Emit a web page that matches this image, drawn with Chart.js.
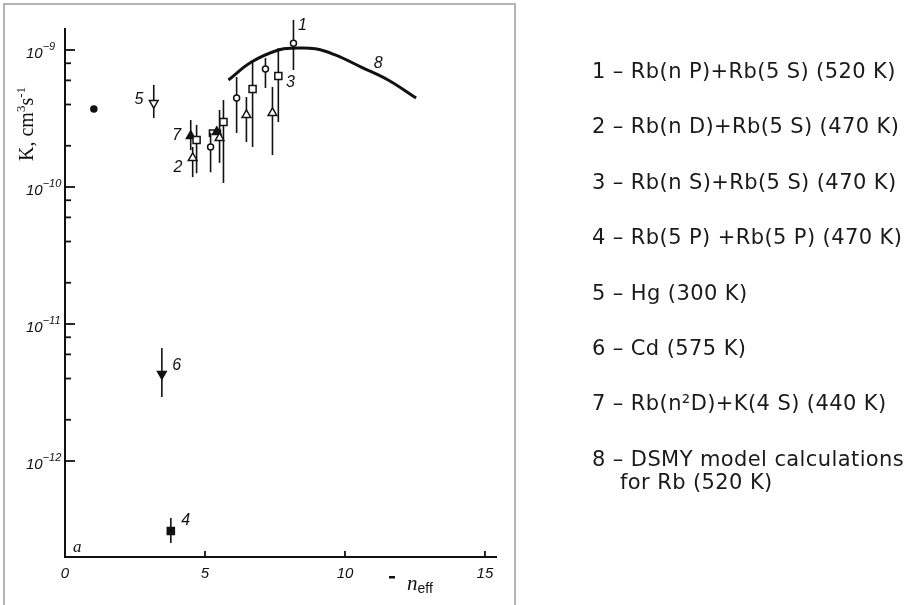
<!DOCTYPE html>
<html>
<head>
<meta charset="utf-8">
<title>K(n_eff)</title>
<script src="https://cdn.jsdelivr.net/npm/chart.js"></script>
<style>
  body { margin: 0; background: #fff; }
  #wrap { position: relative; width: 921px; height: 605px; overflow: hidden; }
  #frame { position: absolute; left: 3px; top: 3px; width: 513px; height: 620px; border: 2px solid #b4b4b4; box-sizing: border-box; }
  #myChart { position: absolute; left: 0; top: 0; }
  #legend { position: absolute; left: 592px; top: 0; font-family: "DejaVu Sans", sans-serif; font-size: 21px; letter-spacing: 0.4px; color: #1a1a1a; }
  #legend div { position: absolute; white-space: nowrap; line-height: 23px; }
</style>
</head>
<body>
<div id="wrap">
  <div id="frame"></div>
  <canvas id="myChart" width="921" height="605"></canvas>
  <div id="legend"></div>
</div>

<script>
  // ticks
  var xTicks = [0, 5, 10, 15];
  var yDecades = [1e-12, 1e-11, 1e-10, 1e-9];
  var yMinor = [2, 4, 6, 8];

  // 1 - Rb(nP)+Rb(5S)
  var nP_x  = [5.20, 6.13, 7.16, 8.16];
  var nP_K  = [1.96e-10, 4.47e-10, 7.26e-10, 1.12e-9];
  var nP_lo = [1.28e-10, 2.48e-10, 5.28e-10, 7.14e-10];
  var nP_hi = [2.48e-10, 6.35e-10, 8.74e-10, 1.66e-9];

  // 2 - Rb(nD)+Rb(5S)
  var nD_x  = [4.56, 5.52, 6.48, 7.41];
  var nD_K  = [1.63e-10, 2.28e-10, 3.36e-10, 3.47e-10];
  var nD_lo = [1.18e-10, 1.50e-10, 2.13e-10, 1.71e-10];
  var nD_hi = [1.96e-10, 3.65e-10, 4.54e-10, 5.37e-10];

  // 3 - Rb(nS)+Rb(5S)
  var nS_x  = [4.70, 5.66, 6.70, 7.62];
  var nS_K  = [2.20e-10, 2.98e-10, 5.19e-10, 6.46e-10];
  var nS_lo = [1.26e-10, 1.07e-10, 1.96e-10, 2.98e-10];
  var nS_hi = [2.84e-10, 4.31e-10, 8.17e-10, 1.03e-9];

  // 4 - Rb(5P)+Rb(5P)
  var p5_x = [3.78], p5_K = [3.08e-13], p5_lo = [2.52e-13], p5_hi = [3.84e-13];
  // 5 - Hg
  var hg_x = [3.17], hg_K = [4.10e-10], hg_lo = [3.19e-10], hg_hi = [5.56e-10];
  // 6 - Cd
  var cd_x = [3.46], cd_K = [4.31e-12], cd_lo = [2.93e-12], cd_hi = [6.68e-12];
  // 7 - Rb(n2D)+K(4S)
  var rbk_x  = [4.49, 5.42];
  var rbk_K  = [2.36e-10, 2.52e-10];
  var rbk_lo = [1.86e-10, null];
  var rbk_hi = [3.08e-10, null];
  var rbk_xlo = [null, 5.16];
  var rbk_xhi = [null, 5.55];
  // lone point near n_eff = 1
  var dot_x = [1.03], dot_K = [3.71e-10];

  // 8 - DSMY model
  var dsmy_x = [5.84, 6.66, 7.62, 8.16, 8.94, 9.65, 10.58, 11.54, 12.54];
  var dsmy_K = [6.04e-10, 8.17e-10, 1.0e-9, 1.03e-9, 1.02e-9, 9.2e-10, 7.5e-10, 6.04e-10, 4.46e-10];

  // curve numbers on the plot
  var tagText = ['1', '2', '3', '4', '5', '6', '7', '8'];
  var tag_x = [8.48, 4.03, 8.05, 4.31, 2.64, 3.99, 3.99, 11.19];
  var tag_K = [1.50e-9, 1.38e-10, 5.83e-10, 3.7e-13, 4.32e-10, 5.0e-12, 2.36e-10, 8.0e-10];

  var legendLines = [
    '1 – Rb(n P)+Rb(5 S) (520 K)',
    '2 – Rb(n D)+Rb(5 S) (470 K)',
    '3 – Rb(n S)+Rb(5 S) (470 K)',
    '4 – Rb(5 P) +Rb(5 P) (470 K)',
    '5 – Hg (300 K)',
    '6 – Cd (575 K)',
    '7 – Rb(n²D)+K(4 S) (440 K)',
    '8 – DSMY model calculations<br><span style="padding-left:28px">for Rb (520 K)</span>'
  ];

  var legendBox = document.getElementById('legend');
  legendLines.forEach(function (txt, i) {
    var d = document.createElement('div');
    d.style.top = (60 + i * 55.4) + 'px';
    d.innerHTML = txt;
    legendBox.appendChild(d);
  });

  function pts(xs, ks, lo, hi, xlo, xhi) {
    return xs.map(function (x, i) {
      return {
        x: x, y: ks[i],
        lo: lo ? lo[i] : null, hi: hi ? hi[i] : null,
        xlo: xlo ? xlo[i] : null, xhi: xhi ? xhi[i] : null
      };
    });
  }

  function marker(label, data, style, fill, radius, rotation) {
    return {
      label: label,
      data: data,
      pointStyle: style,
      pointRotation: rotation || 0,
      pointRadius: radius,
      pointBackgroundColor: fill,
      pointBorderColor: '#111',
      pointBorderWidth: 1.5,
      showLine: false,
      clip: false
    };
  }

  // error bars go under the markers
  var errorBars = {
    id: 'errorBars',
    beforeDatasetsDraw: function (chart) {
      var ctx = chart.ctx, xs = chart.scales.x, ys = chart.scales.y;
      ctx.save();
      ctx.strokeStyle = '#111';
      ctx.lineWidth = 1.6;
      chart.data.datasets.forEach(function (ds) {
        ds.data.forEach(function (p) {
          var px = xs.getPixelForValue(p.x), py = ys.getPixelForValue(p.y);
          if (p.lo != null && p.hi != null) {
            ctx.beginPath();
            ctx.moveTo(px, ys.getPixelForValue(p.lo));
            ctx.lineTo(px, ys.getPixelForValue(p.hi));
            ctx.stroke();
          }
          if (p.xlo != null && p.xhi != null) {
            var a = xs.getPixelForValue(p.xlo), b = xs.getPixelForValue(p.xhi);
            ctx.beginPath();
            ctx.moveTo(a, py + 5); ctx.lineTo(a, py - 2);
            ctx.lineTo(b, py - 2); ctx.lineTo(b, py + 5);
            ctx.stroke();
          }
        });
      });
      ctx.restore();
    }
  };

  // draws text pieces, some raised as superscript / lowered as subscript
  function richText(ctx, x, y, parts) {
    parts.forEach(function (p) {
      ctx.font = p.font;
      ctx.fillText(p.t, x, y + (p.dy || 0));
      x += ctx.measureText(p.t).width;
    });
  }

  var axes = {
    id: 'axes',
    afterDraw: function (chart) {
      var ctx = chart.ctx, xs = chart.scales.x, ys = chart.scales.y, area = chart.chartArea;
      ctx.save();
      ctx.strokeStyle = '#111';
      ctx.fillStyle = '#111';

      // axis lines
      ctx.lineWidth = 2;
      ctx.beginPath();
      ctx.moveTo(area.left, area.top);
      ctx.lineTo(area.left, area.bottom);
      ctx.lineTo(area.right, area.bottom);
      ctx.stroke();

      // y ticks, pointing inward
      ctx.lineWidth = 1.8;
      yDecades.forEach(function (d, i) {
        var py = ys.getPixelForValue(d);
        ctx.beginPath();
        ctx.moveTo(area.left, py); ctx.lineTo(area.left + 10, py);
        ctx.stroke();
        if (i > 0) {
          yMinor.forEach(function (m) {
            var v = m * d / 10;
            var my = ys.getPixelForValue(v);
            ctx.beginPath();
            ctx.moveTo(area.left, my); ctx.lineTo(area.left + 6, my);
            ctx.stroke();
          });
        }
        var exp = Math.round(Math.log10(d));
        ctx.textAlign = 'left';
        ctx.textBaseline = 'alphabetic';
        richText(ctx, 26, py + 8, [
          { t: '10', font: 'italic 15px "Liberation Sans"' },
          { t: '\u2212' + (-exp), font: 'italic 11px "Liberation Sans"', dy: -8 }
        ]);
      });

      // x ticks
      ctx.textAlign = 'center';
      ctx.font = 'italic 15px "Liberation Sans"';
      xTicks.forEach(function (t) {
        var px = xs.getPixelForValue(t);
        if (t > 0) {
          ctx.beginPath();
          ctx.moveTo(px, area.bottom); ctx.lineTo(px, area.bottom - 6);
          ctx.stroke();
        }
        ctx.fillText(String(t), px, area.bottom + 21);
      });

      // x title
      ctx.textAlign = 'left';
      ctx.fillRect(389, 576, 6, 2.5);
      richText(ctx, 407, 590, [
        { t: 'n', font: 'italic 21px "Liberation Serif"' },
        { t: 'eff', font: '14px "Liberation Sans"', dy: 3 }
      ]);

      // panel letter
      ctx.font = 'italic 17px "Liberation Serif"';
      ctx.fillText('a', 73, 552);

      // y title, rotated
      ctx.save();
      ctx.translate(33, 161);
      ctx.rotate(-Math.PI / 2);
      richText(ctx, 0, 0, [
        { t: 'K, cm', font: '20px "Liberation Serif"' },
        { t: '3', font: '13px "Liberation Serif"', dy: -8 },
        { t: 's', font: '20px "Liberation Serif"' },
        { t: '-1', font: '13px "Liberation Serif"', dy: -8 }
      ]);
      ctx.restore();

      // curve numbers
      ctx.textAlign = 'center';
      ctx.textBaseline = 'middle';
      ctx.font = 'italic 16px "Liberation Sans"';
      tagText.forEach(function (t, i) {
        ctx.fillText(t, xs.getPixelForValue(tag_x[i]), ys.getPixelForValue(tag_K[i]));
      });
      ctx.restore();
    }
  };

  var ctx = document.getElementById('myChart').getContext('2d');
  var myChart = new Chart(ctx, {
    type: 'scatter',
    data: {
      datasets: [
        {
          label: '8',
          type: 'line',
          data: pts(dsmy_x, dsmy_K),
          borderColor: '#111',
          borderWidth: 3,
          pointRadius: 0,
          tension: 0.4,
          fill: false,
          clip: false
        },
        marker('1', pts(nP_x, nP_K, nP_lo, nP_hi), 'circle', '#fff', 3),
        marker('2', pts(nD_x, nD_K, nD_lo, nD_hi), 'triangle', '#fff', 5),
        marker('3', pts(nS_x, nS_K, nS_lo, nS_hi), 'rect', '#fff', 5),
        marker('4', pts(p5_x, p5_K, p5_lo, p5_hi), 'rect', '#111', 5),
        marker('5', pts(hg_x, hg_K, hg_lo, hg_hi), 'triangle', '#fff', 5, 180),
        marker('6', pts(cd_x, cd_K, cd_lo, cd_hi), 'triangle', '#111', 5, 180),
        marker('7', pts(rbk_x, rbk_K, rbk_lo, rbk_hi, rbk_xlo, rbk_xhi), 'triangle', '#111', 5),
        marker('', pts(dot_x, dot_K), 'circle', '#111', 3)
      ]
    },
    options: {
      responsive: false,
      animation: false,
      layout: { padding: { left: 65, top: 28, right: 424, bottom: 48 } },
      plugins: { legend: { display: false }, tooltip: { enabled: false } },
      scales: {
        x: { type: 'linear', min: 0, max: 15.43, display: false },
        y: { type: 'logarithmic', min: 1.992e-13, max: 1.447e-9, display: false }
      }
    },
    plugins: [errorBars, axes]
  });
</script>
</body>
</html>
